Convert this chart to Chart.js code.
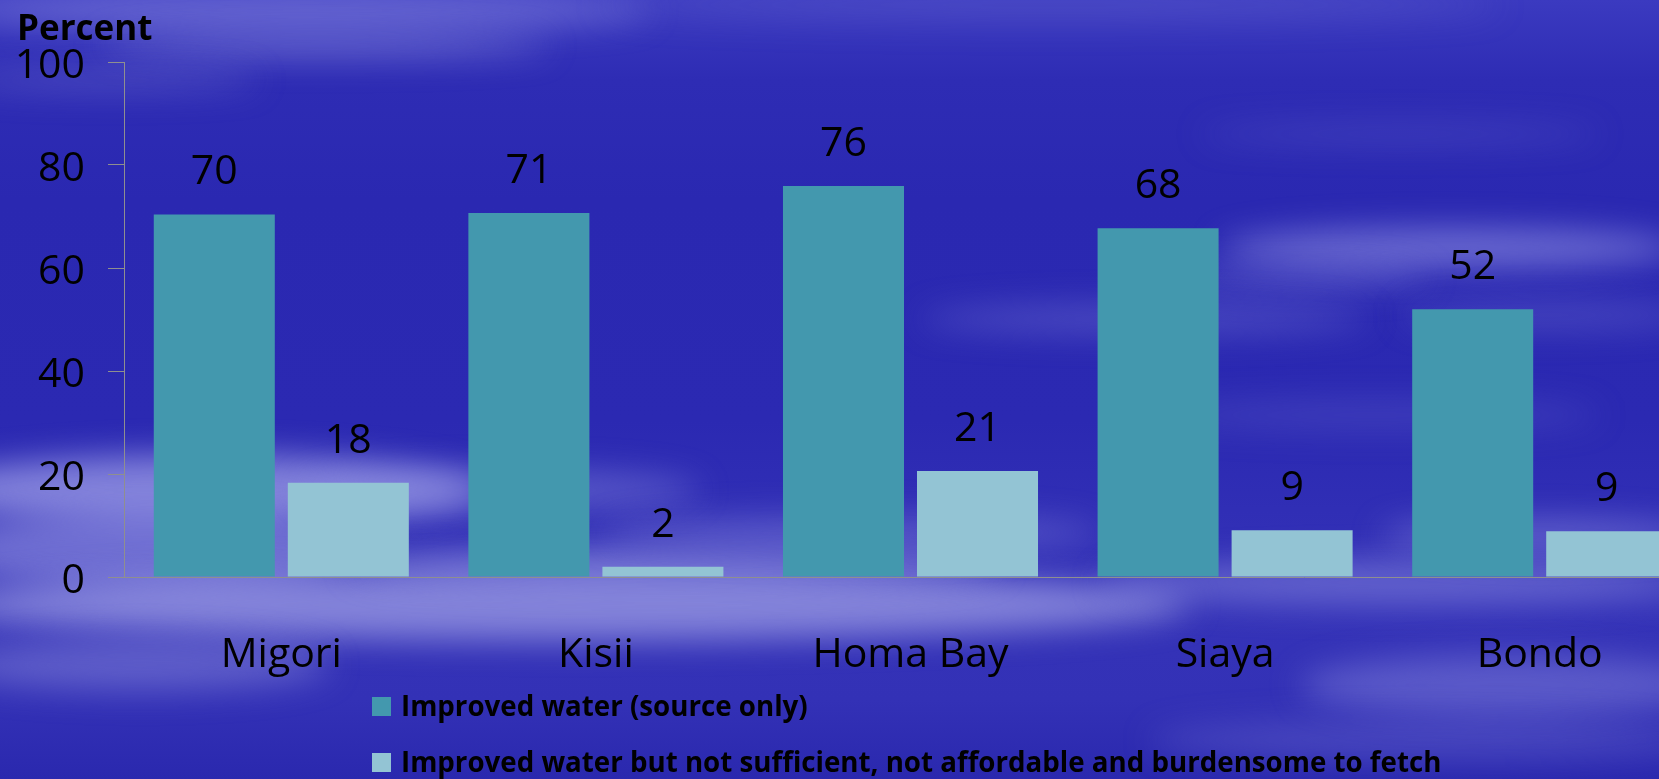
<!DOCTYPE html>
<html>
<head>
<meta charset="utf-8">
<script src="https://cdn.jsdelivr.net/npm/chart.js@4"></script>
<style>
  html, body { margin: 0; padding: 0; width: 1659px; height: 779px; overflow: hidden; }
  #bg {
    position: absolute; left: 0; top: 0; width: 1659px; height: 779px; overflow: hidden;
    background: linear-gradient(180deg, #3b3ac0 0px, #2e2cb4 80px, #2a28b1 200px, #2b29b2 420px, #3533b8 600px, #3331b6 700px, #2a28ae 779px);
  }
  .cl { position: absolute; border-radius: 50%; filter: blur(16px); }
  #wrap { position: absolute; left: 0; top: 0; }
</style>
</head>
<body>
<div id="bg">
  <!-- top streaks -->
  <div class="cl" style="left:-50px;top:-10px;width:700px;height:40px;background:rgba(140,140,225,0.55)"></div>
  <div class="cl" style="left:100px;top:35px;width:450px;height:22px;background:rgba(150,150,225,0.5)"></div>
  <div class="cl" style="left:-40px;top:70px;width:300px;height:20px;background:rgba(130,130,215,0.4)"></div>
  <div class="cl" style="left:600px;top:-10px;width:900px;height:30px;background:rgba(110,110,210,0.35)"></div>
  <div class="cl" style="left:1200px;top:125px;width:400px;height:18px;background:rgba(110,110,210,0.35)"></div>
  <!-- right middle streaks -->
  <div class="cl" style="left:1220px;top:228px;width:460px;height:40px;background:rgba(150,150,230,0.6)"></div>
  <div class="cl" style="left:1180px;top:268px;width:250px;height:20px;background:rgba(140,140,225,0.45)"></div>
  <div class="cl" style="left:920px;top:305px;width:450px;height:28px;background:rgba(120,120,215,0.45)"></div>
  <div class="cl" style="left:1400px;top:300px;width:300px;height:30px;background:rgba(120,120,215,0.35)"></div>
  <div class="cl" style="left:1150px;top:400px;width:450px;height:30px;background:rgba(110,110,210,0.3)"></div>
  <!-- lower-left clouds -->
  <div class="cl" style="left:-80px;top:455px;width:560px;height:70px;background:rgba(165,165,235,0.7)"></div>
  <div class="cl" style="left:-60px;top:510px;width:420px;height:80px;background:rgba(150,150,228,0.6)"></div>
  <div class="cl" style="left:300px;top:470px;width:400px;height:40px;background:rgba(140,140,225,0.45)"></div>
  <div class="cl" style="left:-60px;top:570px;width:1250px;height:70px;background:rgba(165,165,232,0.7)"></div>
  <div class="cl" style="left:350px;top:545px;width:650px;height:40px;background:rgba(150,150,228,0.5)"></div>
  <div class="cl" style="left:-50px;top:640px;width:380px;height:50px;background:rgba(140,140,222,0.5)"></div>
  <div class="cl" style="left:600px;top:515px;width:500px;height:35px;background:rgba(140,140,225,0.4)"></div>
  <!-- right lower streaks -->
  <div class="cl" style="left:1100px;top:560px;width:600px;height:45px;background:rgba(145,145,228,0.5)"></div>
  <div class="cl" style="left:1380px;top:520px;width:320px;height:30px;background:rgba(150,150,230,0.5)"></div>
  <div class="cl" style="left:1300px;top:655px;width:420px;height:60px;background:rgba(140,140,225,0.45)"></div>
  <div class="cl" style="left:1150px;top:720px;width:550px;height:40px;background:rgba(120,120,215,0.35)"></div>
</div>
<div id="wrap"><canvas id="c" width="1697" height="779"></canvas></div>
<script>
const categories = ["Migori", "Kisii", "Homa Bay", "Siaya", "Bondo"];
const seriesNames = [
  "Improved water (source only)",
  "Improved water but not sufficient, not affordable and burdensome to fetch"
];
const improvedSource = [70.4, 70.7, 75.9, 67.7, 52.0];
const notSufficient = [18.3, 2.0, 20.6, 9.1, 8.9];
const yTicks = [0, 20, 40, 60, 80, 100];
const axisTitle = "Percent";

const colors = ["#4398ae", "#93c4d4"];
const FONT = "'Open Sans', 'Noto Sans', sans-serif";

const labelPlugin = {
  id: 'valueLabels',
  afterDatasetsDraw(chart) {
    const ctx = chart.ctx;
    ctx.save();
    ctx.fillStyle = '#000';
    ctx.font = `41px ${FONT}`;
    ctx.textAlign = 'center';
    ctx.textBaseline = 'alphabetic';
    chart.data.datasets.forEach((ds, i) => {
      chart.getDatasetMeta(i).data.forEach((bar, j) => {
        ctx.fillText(String(Math.round(ds.data[j])), bar.x, bar.y - 30);
      });
    });
    ctx.restore();
  }
};

const extrasPlugin = {
  id: 'extras',
  afterDraw(chart) {
    const ctx = chart.ctx;
    ctx.save();
    ctx.fillStyle = '#000';
    ctx.font = `bold 35px ${FONT}`;
    ctx.textAlign = 'left';
    ctx.textBaseline = 'alphabetic';
    ctx.fillText(axisTitle, 17, 40);
    ctx.font = `bold 27.7px ${FONT}`;
    ctx.textBaseline = 'middle';
    const ys = [697, 753];
    chart.data.datasets.forEach((ds, i) => {
      ctx.fillStyle = ds.backgroundColor;
      ctx.fillRect(372, ys[i], 19, 19);
      ctx.fillStyle = '#000';
      ctx.fillText(ds.label, 401, ys[i] + 11);
    });
    ctx.restore();
  }
};

new Chart(document.getElementById('c'), {
  type: 'bar',
  data: {
    labels: categories,
    datasets: [
      { label: seriesNames[0], data: improvedSource, backgroundColor: colors[0] },
      { label: seriesNames[1], data: notSufficient, backgroundColor: colors[1] }
    ]
  },
  options: {
    responsive: false,
    animation: false,
    devicePixelRatio: 1,
    categoryPercentage: 0.852,
    barPercentage: 0.903,
    layout: { padding: { top: 62, left: 0, right: 0, bottom: 0 } },
    plugins: { legend: { display: false }, tooltip: { enabled: false }, title: { display: false } },
    scales: {
      x: {
        grid: { display: false, drawTicks: false },
        border: { display: true, color: '#8f8f8f', width: 1 },
        ticks: { color: '#000', font: { family: FONT, size: 41 }, padding: 54, maxRotation: 0 },
        afterFit(s) { s.height = 202; }
      },
      y: {
        min: 0, max: 100,
        afterBuildTicks(s) { s.ticks = yTicks.map(v => ({ value: v })); },
        grid: { drawOnChartArea: false, drawTicks: true, tickLength: 16, color: '#8f8f8f' },
        border: { display: true, color: '#8f8f8f', width: 1 },
        ticks: { color: '#000', font: { family: FONT, size: 41 }, padding: 23, labelOffset: 4 },
        afterFit(s) { s.width = 124; }
      }
    }
  },
  plugins: [labelPlugin, extrasPlugin]
});
</script>
</body>
</html>
